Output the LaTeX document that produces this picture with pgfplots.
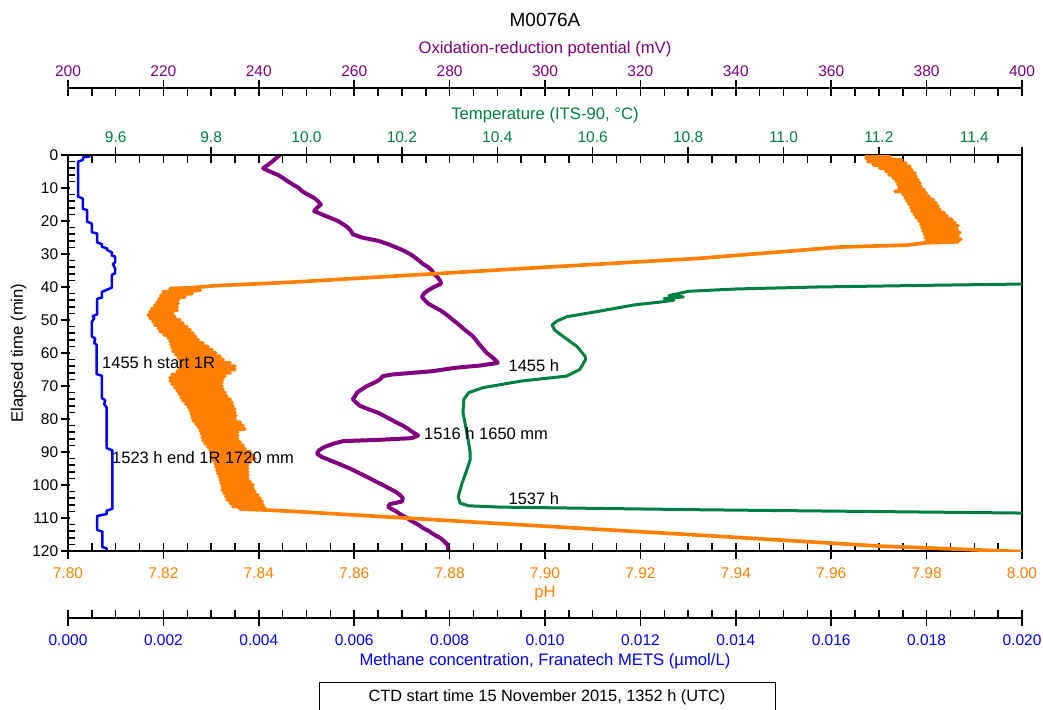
\documentclass[border=0pt]{standalone}
\usepackage{fontspec}
\setmainfont{Liberation Sans}
\usepackage{pgfplots}
\pgfplotsset{compat=1.18}
\definecolor{orpc}{RGB}{128,0,128}
\definecolor{tmpc}{RGB}{0,128,64}
\definecolor{phc}{RGB}{255,128,0}
\definecolor{mthc}{RGB}{0,0,255}
\newcommand{\tickfont}{\fontsize{9.3}{11}\selectfont}
\newcommand{\labfont}{\fontsize{10.2}{12}\selectfont}
\newcommand{\annfont}{\fontsize{9.9}{12}\selectfont}
\pgfplotsset{
  base/.style={scale only axis, width=572.4pt, height=237.6pt, at={(0,0)}, anchor=south west,
    ymin=0, ymax=120, y dir=reverse},
  sc/.style={/pgf/number format/assume math mode=true, scaled x ticks=false,
    tick label style={font=\tickfont}, label style={font=\labfont},
    axis line style={line width=0.9pt, black}, tick style={line width=0.9pt, black},
    tick align=inside, major tick length=9.6pt, minor tick length=4.8pt},
}
\begin{document}
\begin{tikzpicture}
% ---------- time axis (left) ----------
\begin{axis}[base, sc, xmin=0, xmax=1, axis x line=none, axis y line*=left,
  ytick={0,10,...,120}, minor y tick num=4,
  major tick length=5.4pt, minor tick length=4.2pt,
  every major tick/.append style={xshift=-4.2pt},
  yticklabel style={anchor=east, inner sep=0pt, xshift=-5.7pt},
  ylabel={Elapsed time (min)},
  every axis y label/.style={at={(axis description cs:-0.0519,0.5)}, rotate=90, anchor=center}]
\end{axis}
% ---------- ORP scale ----------
\begin{axis}[sc, scale only axis, width=572.4pt, height=10pt, at={(0,277.8pt)}, anchor=north west,
  xmin=200, xmax=400, ymin=0, ymax=1, axis y line=none, axis x line*=top,
  xtick={200,220,...,400}, minor x tick num=3,
  every major tick/.append style={yshift=4.8pt},
  xticklabel style={anchor=center, yshift=10.2pt, text=orpc},
  xlabel={Oxidation-reduction potential (mV)},
  every axis x label/.style={at={(axis description cs:0.5,1)}, anchor=center, yshift=23.0pt, text=orpc}]
\end{axis}
% ---------- Methane scale ----------
\begin{axis}[sc, scale only axis, width=572.4pt, height=10pt, at={(0,-40.2pt)}, anchor=south west,
  xmin=0, xmax=0.02, ymin=0, ymax=1, axis y line=none, axis x line*=bottom,
  xtick={0,0.002,0.004,0.006,0.008,0.010,0.012,0.014,0.016,0.018,0.020}, minor x tick num=3,
  every major tick/.append style={yshift=-4.8pt},
  xticklabel style={anchor=center, yshift=-13.2pt, text=mthc, /pgf/number format/.cd, fixed, fixed zerofill, precision=3},
  xlabel={Methane concentration, Franatech METS (µmol/L)},
  every axis x label/.style={at={(axis description cs:0.5,0)}, anchor=center, yshift=-25.8pt, text=mthc}]
\end{axis}
% ---------- Methane data ----------
\begin{axis}[base, hide axis, xmin=0, xmax=0.02]
\addplot[mthc, line width=1.5pt, line join=round] coordinates {
(0.00046,0.0) (0.00044,0.5) (0.00032,0.7) (0.00031,1.5) (0.00021,2.0) (0.00021,12.6)
(0.00031,13.2) (0.00031,16.3) (0.00040,16.7) (0.00040,20.2) (0.00050,20.8) (0.00050,23.4)
(0.00061,23.8) (0.00061,26.5) (0.00071,27.0) (0.00071,27.8) (0.00082,28.3) (0.00082,28.8)
(0.00092,29.5) (0.00092,30.5) (0.00099,30.8) (0.00099,32.5) (0.00094,33.0) (0.00099,34.5)
(0.00099,35.8) (0.00092,36.3) (0.00092,40.2) (0.00082,40.8) (0.00071,41.5) (0.00071,43.2)
(0.00061,43.6) (0.00061,48.3) (0.00052,48.8) (0.00055,49.5) (0.00050,50.5) (0.00050,55.0)
(0.00057,55.6) (0.00055,57.0) (0.00060,57.5) (0.00060,66.4) (0.00071,66.9) (0.00071,73.7)
(0.00078,74.3) (0.00076,75.5) (0.00081,76.5) (0.00081,88.8) (0.00093,89.5) (0.00093,107.2)
(0.00081,107.8) (0.00081,108.8) (0.00061,109.4) (0.00061,113.6) (0.00072,114.1) (0.00072,118.8)
(0.00081,119.2) (0.00081,120)
};
\end{axis}
% ---------- ORP data ----------
\begin{axis}[base, hide axis, xmin=200, xmax=400]
\addplot[orpc, line width=2.4pt, line join=round] coordinates {
(244.4,0) (243.6,1) (242.8,2) (241.9,3) (240.9,4) (242.3,5) (244.0,6) (245.1,7) (246.1,8)
(247.2,9) (248.4,10) (249.1,11) (250.3,12) (251.6,13) (252.4,14) (253.0,15) (252.2,16)
(251.6,17) (253.2,18) (254.9,19) (256.6,20) (257.7,21) (258.7,22) (259.3,23) (259.7,24)
(261.6,25) (265.0,26) (267.1,27) (268.8,28) (270.4,29) (271.7,30) (272.7,31) (273.6,32)
(274.4,33) (275.5,34) (276.3,35) (276.7,36) (277.4,37) (278.0,38) (278.2,39) (276.7,40)
(275.5,41) (274.6,42) (274.2,43) (274.8,44) (275.5,45) (276.7,46) (278.0,47) (279.0,48)
(279.9,49) (280.7,50) (281.6,51) (282.4,52) (283.2,53) (284.1,54) (284.9,55) (285.5,56)
(286.0,57) (286.6,58) (287.2,59) (287.8,60) (288.7,61) (289.5,62) (290.1,63) (286.4,63.8)
(281.1,64.5) (276.5,65.5) (268.1,66.5) (266.0,67) (265.4,68) (264.2,69) (262.7,70) (261.6,71)
(260.6,72) (260.2,73) (259.7,74) (260.4,75) (261.2,76) (262.9,77) (264.8,78) (266.2,79)
(267.5,80) (268.8,81) (270.2,82) (271.3,83) (272.3,84) (273.4,85) (272.1,85.8) (265.4,86.3)
(257.7,86.7) (255.6,87.5) (253.7,88.5) (252.6,89.5) (252.2,90.5) (253.2,91.5) (254.9,92.5)
(256.6,93.5) (259.1,95) (261.2,96.5) (263.3,98) (264.6,99) (266.0,100) (267.3,101) (268.6,102)
(269.6,103) (270.2,104) (270.0,105) (267.5,105.8) (267.1,106.5) (267.5,107) (268.8,108)
(269.8,109) (271.1,110) (272.1,111) (273.4,112) (274.4,113) (275.7,114) (276.7,115)
(278.0,116) (278.8,117) (279.5,118) (279.7,119) (279.7,120)
};
\end{axis}
% ---------- Temperature axis + data ----------
\begin{axis}[base, sc, xmin=9.5, xmax=11.5, axis x line*=top, axis y line*=right, ytick=\empty,
  xtick={9.6,9.8,10.0,10.2,10.4,10.6,10.8,11.0,11.2,11.4},
  minor xtick={9.5,9.55,...,11.5},
  extra x ticks={11.5}, extra x tick labels={},
  every major tick/.append style={yshift=4.8pt},
  xticklabel style={anchor=center, yshift=10.8pt, text=tmpc, /pgf/number format/.cd, fixed, fixed zerofill, precision=1},
  xlabel={Temperature (ITS-90, °C)},
  every axis x label/.style={at={(axis description cs:0.5,1)}, anchor=center, yshift=24pt, text=tmpc}]
\addplot[tmpc, line width=1.8pt, line join=round] coordinates {
(11.65,38.8) (11.50,39.1) (11.30,39.5) (11.07,40.0) (10.90,40.6) (10.80,41.3) (10.78,42.0)
(10.76,42.6) (10.79,43.0) (10.75,43.5) (10.77,44.0) (10.74,44.6) (10.70,45.2) (10.684,45.5)
(10.615,47.3) (10.546,49.0) (10.525,50.3) (10.515,51.5) (10.52,53.0) (10.538,55.0)
(10.567,58.0) (10.584,61.0) (10.585,62.0) (10.573,65.0) (10.545,67.0) (10.45,68.5)
(10.37,70.5) (10.34,72.0) (10.330,74.0) (10.328,78.0) (10.332,81.0) (10.339,86.4)
(10.343,90.0) (10.343,92.4) (10.336,95.5) (10.326,99.5) (10.318,103.6) (10.322,105.5)
(10.34,106.3) (10.406,106.7) (10.825,107.5) (11.50,108.5) (11.65,108.7)
};
\end{axis}
% ---------- pH axis + data ----------
\begin{axis}[base, sc, xmin=7.8, xmax=8.0, axis x line*=bottom, axis y line=none,
  xtick={7.80,7.82,7.84,7.86,7.88,7.90,7.92,7.94,7.96,7.98,8.00}, minor x tick num=3,
  every major tick/.append style={yshift=-4.8pt},
  xticklabel style={anchor=center, yshift=-13.2pt, text=phc, /pgf/number format/.cd, fixed, fixed zerofill, precision=2},
  xlabel={pH},
  every axis x label/.style={at={(axis description cs:0.5,0)}, anchor=center, yshift=-25.2pt, text=phc}]
\addplot[phc, line width=2.2pt, line join=round] coordinates {
(7.9671,0) (7.9723,0.5) (7.9673,1) (7.9748,1.5) (7.9677,2) (7.9757,2.5) (7.9688,3) (7.9765,3.5)
(7.9702,4) (7.9769,4.5) (7.9715,5) (7.9776,5.5) (7.9721,6) (7.9778,6.5) (7.9730,7) (7.9782,7.5)
(7.9736,8) (7.9786,8.5) (7.9740,9) (7.9788,9.5) (7.9742,10) (7.9795,10.5) (7.9734,11) (7.9799,11.5)
(7.9751,12) (7.9805,12.5) (7.9755,13) (7.9814,13.5) (7.9759,14) (7.9820,14.5) (7.9763,15) (7.9824,15.5)
(7.9767,16) (7.9828,16.5) (7.9769,17) (7.9837,17.5) (7.9774,18) (7.9843,18.5) (7.9778,19) (7.9853,19.5)
(7.9784,20) (7.9860,20.5) (7.9788,21) (7.9866,21.5) (7.9790,22) (7.9864,22.5) (7.9792,23) (7.9870,23.5)
(7.9795,24) (7.9866,24.5) (7.9797,25) (7.9872,25.5) (7.9799,26) (7.9866,26.3) (7.9799,26.6)
(7.9759,27.3) (7.9618,27.9) (7.9325,31.3) (7.8906,34.8) (7.8486,38.4) (7.8403,39.0) (7.8310,39.6)
(7.8260,40.2)
(7.8214,40.5) (7.8277,41.0) (7.8199,41.5) (7.8260,42.0) (7.8195,42.5) (7.8245,43.0) (7.8191,43.5)
(7.8231,44.0) (7.8187,44.5) (7.8231,45.0) (7.8182,45.5) (7.8229,46.0) (7.8176,46.5) (7.8229,47.0)
(7.8172,47.5) (7.8220,48.0) (7.8168,48.5) (7.8224,49.0) (7.8172,49.5) (7.8235,50.0) (7.8178,50.5)
(7.8241,51.0) (7.8182,51.5) (7.8249,52.0) (7.8189,52.5) (7.8256,53.0) (7.8193,53.5) (7.8262,54.0)
(7.8201,54.5) (7.8268,55.0) (7.8210,55.5) (7.8273,56.0) (7.8214,56.5) (7.8283,57.0) (7.8216,57.5)
(7.8293,58.0) (7.8218,58.5) (7.8302,59.0) (7.8220,59.5) (7.8310,60.0) (7.8226,60.5) (7.8319,61.0)
(7.8231,61.5) (7.8325,62.0) (7.8235,62.5) (7.8340,63.0) (7.8235,63.5) (7.8350,64.0) (7.8233,64.5)
(7.8350,65.0) (7.8229,65.5) (7.8340,66.0) (7.8218,66.5) (7.8329,67.0) (7.8214,67.5) (7.8325,68.0)
(7.8214,68.5) (7.8323,69.0) (7.8218,69.5) (7.8323,70.0) (7.8224,70.5) (7.8325,71.0) (7.8229,71.5)
(7.8329,72.0) (7.8233,72.5) (7.8333,73.0) (7.8237,73.5) (7.8340,74.0) (7.8241,74.5) (7.8344,75.0)
(7.8247,75.5) (7.8346,76.0) (7.8252,76.5) (7.8350,77.0) (7.8256,77.5) (7.8350,78.0) (7.8258,78.5)
(7.8352,79.0) (7.8260,79.5) (7.8350,80.0) (7.8262,80.5) (7.8361,81.0) (7.8268,81.5) (7.8367,82.0)
(7.8273,82.5) (7.8371,83.0) (7.8277,83.5) (7.8356,84.0) (7.8279,84.5) (7.8356,85.0) (7.8281,85.5)
(7.8356,86.0) (7.8283,86.5) (7.8361,87.0) (7.8287,87.5) (7.8367,88.0) (7.8293,88.5) (7.8371,89.0)
(7.8298,89.5) (7.8382,90.0) (7.8300,90.5) (7.8388,91.0) (7.8302,91.5) (7.8392,92.0) (7.8304,92.5)
(7.8382,93.0) (7.8308,93.5) (7.8377,94.0) (7.8310,94.5) (7.8377,95.0) (7.8312,95.5) (7.8377,96.0)
(7.8314,96.5) (7.8377,97.0) (7.8317,97.5) (7.8377,98.0) (7.8319,98.5) (7.8382,99.0) (7.8321,99.5)
(7.8388,100.0) (7.8323,100.5) (7.8388,101.0) (7.8323,101.5) (7.8392,102.0) (7.8327,102.5) (7.8398,103.0)
(7.8331,103.5) (7.8403,104.0) (7.8333,104.5) (7.8407,105.0) (7.8340,105.5) (7.8409,106.0) (7.8346,106.5)
(7.8413,107.0) (7.8361,107.3)
(7.8417,107.6) (7.8486,108.1) (7.8591,109.0) (7.8906,111.7) (7.9325,115.2) (7.9700,118.5) (8.0000,120.2)
};
\node[anchor=west, inner sep=0pt, font=\annfont] at (axis cs:7.8071,63) {1455 h start 1R};
\node[anchor=west, inner sep=0pt, font=\annfont] at (axis cs:7.8092,91.6) {1523 h end 1R 1720 mm};
\node[anchor=west, inner sep=0pt, font=\annfont] at (axis cs:7.8923,63.9) {1455 h};
\node[anchor=west, inner sep=0pt, font=\annfont] at (axis cs:7.8746,84.5) {1516 h 1650 mm};
\node[anchor=west, inner sep=0pt, font=\annfont] at (axis cs:7.8923,104.1) {1537 h};
\end{axis}
\node[font=\fontsize{11.4}{13}\selectfont] at (286.2pt,318.6pt) {M0076A};
\node[draw, line width=0.6pt, minimum width=273.6pt, minimum height=18pt, font=\fontsize{9.8}{12}\selectfont] at (287.4pt,-87.6pt) {CTD start time 15 November 2015, 1352 h (UTC)};
\pgfresetboundingbox
\path[use as bounding box] (-40.8pt,-94.8pt) rectangle (585pt,330.6pt);
\end{tikzpicture}
\end{document}
